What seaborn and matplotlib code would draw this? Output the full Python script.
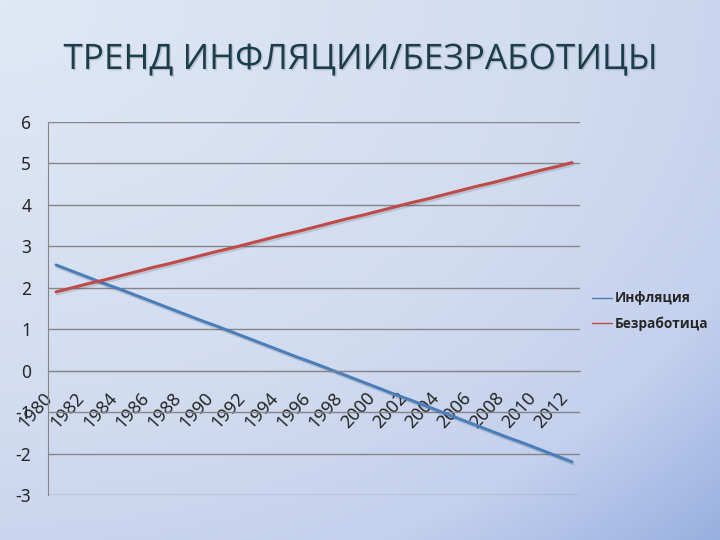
import numpy as np
import pandas as pd
import matplotlib
matplotlib.use('Agg')
import matplotlib.pyplot as plt
import matplotlib.patheffects as pe
from matplotlib.colors import LinearSegmentedColormap
import seaborn as sns

# Values (yearly, 1980-2012)
years = list(range(1980, 2013))
inflation = [2.55, 2.40, 2.25, 2.10, 1.96, 1.81, 1.66, 1.51, 1.36, 1.21, 1.07,
             0.92, 0.77, 0.62, 0.47, 0.32, 0.18, 0.03, -0.12, -0.27, -0.42,
             -0.57, -0.71, -0.86, -1.01, -1.16, -1.31, -1.46, -1.61, -1.75,
             -1.90, -2.05, -2.20]
unemployment = [1.90, 2.00, 2.10, 2.19, 2.29, 2.39, 2.49, 2.58, 2.68, 2.78, 2.88,
                2.97, 3.07, 3.17, 3.27, 3.36, 3.46, 3.56, 3.66, 3.75, 3.85,
                3.95, 4.05, 4.14, 4.24, 4.34, 4.44, 4.53, 4.63, 4.73, 4.83,
                4.92, 5.02]
series_names = ['Инфляция', 'Безработица']
label_years = list(range(1980, 2013, 2))
y_ticks = list(range(-3, 7))

df = pd.DataFrame({'year': years, series_names[0]: inflation, series_names[1]: unemployment})
df_long = df.melt(id_vars='year', var_name='series', value_name='value')

sns.set_style('white')
plt.rcParams['font.family'] = ['Noto Sans', 'DejaVu Sans']

fig = plt.figure(figsize=(7.2, 5.4), dpi=100)

# Slide-like gradient background
bg = fig.add_axes([0, 0, 1, 1], zorder=-10)
xx, yy = np.meshgrid(np.linspace(0, 1, 360), np.linspace(0, 1, 270))
dist = np.sqrt(xx ** 2 + yy ** 2) / np.sqrt(2)
cmap = LinearSegmentedColormap.from_list('bg', [(0, '#e0e8f5'), (0.55, '#d2dcf0'),
                                                (0.8, '#c4d1ed'), (1, '#98b0e0')])
bg.imshow(dist, cmap=cmap, aspect='auto', extent=[0, 1, 0, 1], origin='upper')
bg.axis('off')

ax = fig.add_axes([48 / 720, 45 / 540, 532 / 720, 373 / 540])
ax.patch.set_alpha(0)

sns.lineplot(data=df_long, x='year', y='value', hue='series',
             palette=['#4a7ebb', '#be4b48'], linewidth=2.2, ax=ax, legend=True)
for line in ax.lines:
    line.set_path_effects([pe.SimpleLineShadow(offset=(1, -1.5), alpha=0.12), pe.Normal()])

ax.set_xlim(1979.5, 2012.5)
ax.set_ylim(-3, 6)
ax.set_yticks(y_ticks)
ax.set_yticklabels([str(v) for v in y_ticks], fontsize=12.5)
ax.grid(axis='y', color='#868686', linewidth=1)
ax.set_axisbelow(True)

for s in ['top', 'right']:
    ax.spines[s].set_visible(False)
ax.spines['left'].set_color('#868686')
ax.spines['bottom'].set_color('#868686')
ax.spines['bottom'].set_position(('data', 0))

ax.set_xticks(label_years)
ax.set_xticklabels([str(y) for y in label_years], rotation=48, ha='right', va='top',
                   fontsize=13)
ax.set_xticks([y + 0.5 for y in years[:-1]], minor=True)
ax.tick_params(axis='x', which='major', length=0, pad=13)
ax.tick_params(axis='x', which='minor', length=5, color='#868686', direction='out')
ax.tick_params(axis='y', length=5, color='#868686', pad=7)
ax.set_xlabel('')
ax.set_ylabel('')

leg = ax.legend(loc='center left', bbox_to_anchor=(592 / 720, 1 - 311 / 540),
                bbox_transform=fig.transFigure, frameon=False,
                handlelength=1.5, handletextpad=0.15, labelspacing=0.8,
                borderpad=0, borderaxespad=0,
                prop={'family': ['Open Sans', 'DejaVu Sans'], 'weight': 'bold', 'size': 9.8})
for line in leg.get_lines():
    line.set_linewidth(1)
    line.set_path_effects([])

fig.text(360 / 720, 1 - 60 / 540, 'ТРЕНД ИНФЛЯЦИИ/БЕЗРАБОТИЦЫ', ha='center', va='center',
         fontsize=25.3, color='#1c3d4c', family=['Open Sans', 'DejaVu Sans'],
         path_effects=[pe.withSimplePatchShadow(offset=(1, -1), alpha=0.15)])

fig.savefig('out.png', dpi=100)
